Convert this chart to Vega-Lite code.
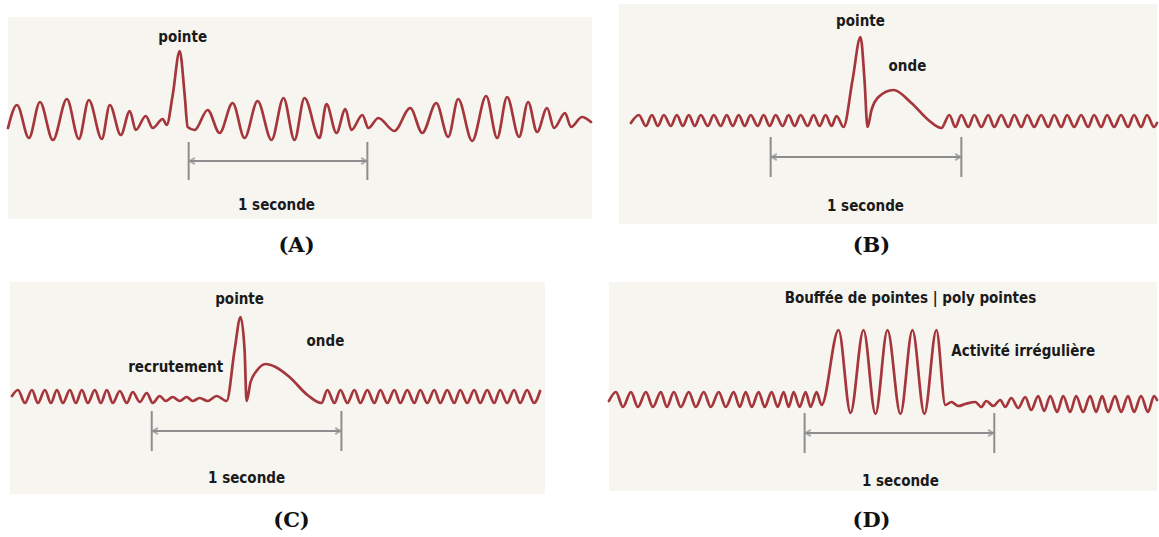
{
  "$schema": "https://vega.github.io/schema/vega-lite/v6.json",
  "width": 1159,
  "height": 537,
  "autosize": {"type": "fit", "contains": "padding"},
  "padding": 0,
  "background": "#ffffff",
  "config": {"view": {"stroke": null}},
  "datasets": {
    "panels": [
      {"p": "A", "x": 8, "x2": 593, "y": 17, "y2": 219},
      {"p": "B", "x": 620, "x2": 1159, "y": 4, "y2": 224},
      {"p": "C", "x": 10, "x2": 546, "y": 282, "y2": 494},
      {"p": "D", "x": 610, "x2": 1159, "y": 282, "y2": 491}
    ],
    "waves": [
      {"p":"A","x":8,"y":128},{"p":"A","x":17,"y":105},{"p":"A","x":29,"y":138},{"p":"A","x":40,"y":102},{"p":"A","x":53,"y":140},{"p":"A","x":67,"y":99},{"p":"A","x":79,"y":139},{"p":"A","x":89,"y":100},{"p":"A","x":102,"y":139},{"p":"A","x":110,"y":105},{"p":"A","x":121,"y":135},{"p":"A","x":130,"y":111},{"p":"A","x":136,"y":130},{"p":"A","x":146,"y":116},{"p":"A","x":153,"y":128},{"p":"A","x":163,"y":119},{"p":"A","x":167,"y":125},{"p":"A","x":173,"y":95},{"p":"A","x":180,"y":51},{"p":"A","x":185,"y":95},{"p":"A","x":188,"y":127},{"p":"A","x":195,"y":130},{"p":"A","x":208,"y":110},{"p":"A","x":220,"y":133},{"p":"A","x":233,"y":103},{"p":"A","x":245,"y":138},{"p":"A","x":258,"y":101},{"p":"A","x":272,"y":140},{"p":"A","x":284,"y":98},{"p":"A","x":295,"y":140},{"p":"A","x":305,"y":98},{"p":"A","x":320,"y":138},{"p":"A","x":327,"y":104},{"p":"A","x":337,"y":133},{"p":"A","x":346,"y":109},{"p":"A","x":352,"y":130},{"p":"A","x":363,"y":115},{"p":"A","x":369,"y":128},{"p":"A","x":379,"y":118},{"p":"A","x":395,"y":131},{"p":"A","x":411,"y":108},{"p":"A","x":423,"y":133},{"p":"A","x":437,"y":103},{"p":"A","x":449,"y":137},{"p":"A","x":459,"y":99},{"p":"A","x":473,"y":141},{"p":"A","x":487,"y":96},{"p":"A","x":498,"y":138},{"p":"A","x":508,"y":97},{"p":"A","x":520,"y":137},{"p":"A","x":529,"y":102},{"p":"A","x":538,"y":132},{"p":"A","x":548,"y":108},{"p":"A","x":555,"y":128},{"p":"A","x":566,"y":113},{"p":"A","x":572,"y":127},{"p":"A","x":583,"y":117},{"p":"A","x":592,"y":122},

      {"p":"B","x":632,"y":123},{"p":"B","x":640,"y":115},{"p":"B","x":647,"y":126},{"p":"B","x":653,"y":115},{"p":"B","x":659,"y":126},{"p":"B","x":665,"y":115},{"p":"B","x":672,"y":126},{"p":"B","x":678,"y":115},{"p":"B","x":684,"y":126},{"p":"B","x":690,"y":115},{"p":"B","x":696,"y":126},{"p":"B","x":702,"y":115},{"p":"B","x":709,"y":126},{"p":"B","x":715,"y":115},{"p":"B","x":722,"y":126},{"p":"B","x":728,"y":115},{"p":"B","x":734,"y":126},{"p":"B","x":740,"y":115},{"p":"B","x":746,"y":126},{"p":"B","x":752,"y":115},{"p":"B","x":759,"y":126},{"p":"B","x":765,"y":115},{"p":"B","x":771,"y":126},{"p":"B","x":777,"y":115},{"p":"B","x":784,"y":126},{"p":"B","x":790,"y":115},{"p":"B","x":796,"y":126},{"p":"B","x":802,"y":115},{"p":"B","x":809,"y":126},{"p":"B","x":815,"y":115},{"p":"B","x":821,"y":126},{"p":"B","x":827,"y":115},{"p":"B","x":833,"y":126},{"p":"B","x":838,"y":116},{"p":"B","x":845,"y":127},{"p":"B","x":854,"y":80},{"p":"B","x":862,"y":37},{"p":"B","x":866,"y":80},{"p":"B","x":869,"y":127},{"p":"B","x":873,"y":110},{"p":"B","x":880,"y":97},{"p":"B","x":895,"y":90},{"p":"B","x":913,"y":103},{"p":"B","x":930,"y":120},{"p":"B","x":943,"y":128},{"p":"B","x":951,"y":115},{"p":"B","x":957,"y":127},{"p":"B","x":963,"y":115},{"p":"B","x":970,"y":127},{"p":"B","x":976,"y":115},{"p":"B","x":983,"y":127},{"p":"B","x":990,"y":115},{"p":"B","x":996,"y":127},{"p":"B","x":1003,"y":115},{"p":"B","x":1010,"y":127},{"p":"B","x":1016,"y":115},{"p":"B","x":1023,"y":127},{"p":"B","x":1029,"y":115},{"p":"B","x":1036,"y":127},{"p":"B","x":1043,"y":115},{"p":"B","x":1050,"y":127},{"p":"B","x":1056,"y":115},{"p":"B","x":1063,"y":127},{"p":"B","x":1069,"y":115},{"p":"B","x":1076,"y":127},{"p":"B","x":1083,"y":115},{"p":"B","x":1090,"y":127},{"p":"B","x":1096,"y":115},{"p":"B","x":1103,"y":127},{"p":"B","x":1109,"y":115},{"p":"B","x":1116,"y":127},{"p":"B","x":1123,"y":115},{"p":"B","x":1130,"y":127},{"p":"B","x":1136,"y":115},{"p":"B","x":1143,"y":127},{"p":"B","x":1149,"y":115},{"p":"B","x":1156,"y":127},{"p":"B","x":1159,"y":123},

      {"p":"C","x":12,"y":396},{"p":"C","x":18,"y":390},{"p":"C","x":25,"y":403},{"p":"C","x":32,"y":390},{"p":"C","x":38,"y":403},{"p":"C","x":45,"y":390},{"p":"C","x":51,"y":403},{"p":"C","x":57,"y":390},{"p":"C","x":63,"y":403},{"p":"C","x":70,"y":390},{"p":"C","x":76,"y":403},{"p":"C","x":82,"y":390},{"p":"C","x":88,"y":403},{"p":"C","x":95,"y":390},{"p":"C","x":101,"y":403},{"p":"C","x":107,"y":390},{"p":"C","x":113,"y":403},{"p":"C","x":120,"y":391},{"p":"C","x":127,"y":403},{"p":"C","x":133,"y":392},{"p":"C","x":140,"y":402},{"p":"C","x":147,"y":393},{"p":"C","x":153,"y":403},{"p":"C","x":160,"y":396},{"p":"C","x":166,"y":401},{"p":"C","x":173,"y":397},{"p":"C","x":180,"y":401},{"p":"C","x":187,"y":397},{"p":"C","x":193,"y":401},{"p":"C","x":200,"y":398},{"p":"C","x":208,"y":401},{"p":"C","x":217,"y":396},{"p":"C","x":227,"y":401},{"p":"C","x":235,"y":350},{"p":"C","x":241,"y":317},{"p":"C","x":245,"y":350},{"p":"C","x":247,"y":401},{"p":"C","x":251,"y":382},{"p":"C","x":257,"y":371},{"p":"C","x":266,"y":364},{"p":"C","x":276,"y":367},{"p":"C","x":290,"y":377},{"p":"C","x":308,"y":395},{"p":"C","x":322,"y":403},{"p":"C","x":328,"y":390},{"p":"C","x":335,"y":403},{"p":"C","x":341,"y":390},{"p":"C","x":348,"y":403},{"p":"C","x":355,"y":390},{"p":"C","x":361,"y":403},{"p":"C","x":368,"y":390},{"p":"C","x":375,"y":403},{"p":"C","x":381,"y":390},{"p":"C","x":388,"y":403},{"p":"C","x":395,"y":390},{"p":"C","x":401,"y":403},{"p":"C","x":408,"y":390},{"p":"C","x":415,"y":403},{"p":"C","x":421,"y":390},{"p":"C","x":428,"y":403},{"p":"C","x":435,"y":390},{"p":"C","x":441,"y":403},{"p":"C","x":448,"y":390},{"p":"C","x":455,"y":403},{"p":"C","x":461,"y":390},{"p":"C","x":468,"y":403},{"p":"C","x":475,"y":390},{"p":"C","x":481,"y":403},{"p":"C","x":488,"y":390},{"p":"C","x":495,"y":403},{"p":"C","x":501,"y":390},{"p":"C","x":508,"y":403},{"p":"C","x":515,"y":390},{"p":"C","x":521,"y":403},{"p":"C","x":528,"y":390},{"p":"C","x":535,"y":403},{"p":"C","x":541,"y":391},

      {"p":"D","x":610,"y":401},{"p":"D","x":617,"y":392},{"p":"D","x":624,"y":407},{"p":"D","x":632,"y":392},{"p":"D","x":639,"y":407},{"p":"D","x":647,"y":392},{"p":"D","x":654,"y":407},{"p":"D","x":662,"y":392},{"p":"D","x":668,"y":407},{"p":"D","x":675,"y":392},{"p":"D","x":682,"y":407},{"p":"D","x":690,"y":392},{"p":"D","x":697,"y":407},{"p":"D","x":705,"y":392},{"p":"D","x":712,"y":407},{"p":"D","x":720,"y":392},{"p":"D","x":727,"y":407},{"p":"D","x":735,"y":392},{"p":"D","x":741,"y":407},{"p":"D","x":747,"y":392},{"p":"D","x":753,"y":407},{"p":"D","x":760,"y":392},{"p":"D","x":766,"y":407},{"p":"D","x":773,"y":392},{"p":"D","x":779,"y":407},{"p":"D","x":785,"y":392},{"p":"D","x":790,"y":407},{"p":"D","x":795,"y":392},{"p":"D","x":801,"y":407},{"p":"D","x":807,"y":392},{"p":"D","x":812,"y":407},{"p":"D","x":818,"y":392},{"p":"D","x":823,"y":405},{"p":"D","x":840,"y":330},{"p":"D","x":852,"y":413},{"p":"D","x":865,"y":330},{"p":"D","x":877,"y":414},{"p":"D","x":889,"y":330},{"p":"D","x":902,"y":414},{"p":"D","x":914,"y":330},{"p":"D","x":926,"y":414},{"p":"D","x":938,"y":330},{"p":"D","x":947,"y":405},{"p":"D","x":953,"y":402},{"p":"D","x":960,"y":406},{"p":"D","x":967,"y":404},{"p":"D","x":977,"y":402},{"p":"D","x":983,"y":407},{"p":"D","x":988,"y":401},{"p":"D","x":995,"y":406},{"p":"D","x":1002,"y":400},{"p":"D","x":1007,"y":407},{"p":"D","x":1013,"y":398},{"p":"D","x":1020,"y":408},{"p":"D","x":1027,"y":397},{"p":"D","x":1033,"y":410},{"p":"D","x":1040,"y":396},{"p":"D","x":1046,"y":411},{"p":"D","x":1052,"y":396},{"p":"D","x":1059,"y":412},{"p":"D","x":1065,"y":396},{"p":"D","x":1072,"y":412},{"p":"D","x":1078,"y":396},{"p":"D","x":1085,"y":412},{"p":"D","x":1092,"y":396},{"p":"D","x":1098,"y":412},{"p":"D","x":1104,"y":396},{"p":"D","x":1110,"y":412},{"p":"D","x":1117,"y":396},{"p":"D","x":1123,"y":412},{"p":"D","x":1130,"y":396},{"p":"D","x":1136,"y":412},{"p":"D","x":1143,"y":396},{"p":"D","x":1150,"y":412},{"p":"D","x":1156,"y":396},{"p":"D","x":1159,"y":400}
    ],
    "brackets": [
      {"p":"A","x":189,"x2":189,"y":142,"y2":180},{"p":"A","x":368,"x2":368,"y":142,"y2":180},{"p":"A","x":190,"x2":367,"y":161,"y2":161},
      {"p":"B","x":772,"x2":772,"y":137,"y2":177},{"p":"B","x":963,"x2":963,"y":137,"y2":177},{"p":"B","x":773,"x2":962,"y":157,"y2":157},
      {"p":"C","x":152,"x2":152,"y":411,"y2":451},{"p":"C","x":342,"x2":342,"y":411,"y2":451},{"p":"C","x":153,"x2":341,"y":431,"y2":431},
      {"p":"D","x":806,"x2":806,"y":413,"y2":453},{"p":"D","x":996,"x2":996,"y":413,"y2":453},{"p":"D","x":807,"x2":995,"y":433,"y2":433}
    ],
    "arrows": [
      {"p":"A","side":"L","x":192,"y":161},{"p":"A","side":"R","x":365,"y":161},
      {"p":"B","side":"L","x":775,"y":157},{"p":"B","side":"R","x":960,"y":157},
      {"p":"C","side":"L","x":155,"y":431},{"p":"C","side":"R","x":339,"y":431},
      {"p":"D","side":"L","x":809,"y":433},{"p":"D","side":"R","x":993,"y":433}
    ],
    "labels": [
      {"t":"pointe","x":183,"y":37},
      {"t":"1 seconde","x":277,"y":205},
      {"t":"pointe","x":862,"y":21},
      {"t":"onde","x":909,"y":66},
      {"t":"1 seconde","x":867,"y":206},
      {"t":"pointe","x":240,"y":299},
      {"t":"recrutement","x":176,"y":367},
      {"t":"onde","x":326,"y":341},
      {"t":"1 seconde","x":247,"y":478},
      {"t":"Bouffée de pointes | poly pointes","x":912,"y":298},
      {"t":"1 seconde","x":902,"y":481}
    ],
    "leftlabels": [
      {"t":"Activité irrégulière","x":953,"y":351}
    ],
    "tags": [
      {"t":"(A)","x":297,"y":246},
      {"t":"(B)","x":873,"y":246},
      {"t":"(C)","x":292,"y":521},
      {"t":"(D)","x":873,"y":521}
    ]
  },
  "encoding": {
    "x": {"field": "x", "type": "quantitative", "scale": {"domain": [0, 1159], "nice": false, "zero": false}, "axis": null},
    "y": {"field": "y", "type": "quantitative", "scale": {"domain": [0, 537], "nice": false, "zero": false, "reverse": true}, "axis": null}
  },
  "layer": [
    {
      "data": {"name": "panels"},
      "mark": {"type": "rect", "color": "#f7f5f0"},
      "encoding": {"x2": {"field": "x2"}, "y2": {"field": "y2"}}
    },
    {
      "data": {"name": "brackets"},
      "mark": {"type": "rule", "color": "#8d8d8d", "strokeWidth": 2},
      "encoding": {"x2": {"field": "x2"}, "y2": {"field": "y2"}}
    },
    {
      "data": {"name": "arrows"},
      "transform": [{"filter": "datum.side == 'L'"}],
      "mark": {"type": "point", "shape": "M1,-1L-0.6,0L1,1", "filled": false, "color": "#8d8d8d", "strokeWidth": 2, "size": 40}
    },
    {
      "data": {"name": "arrows"},
      "transform": [{"filter": "datum.side == 'R'"}],
      "mark": {"type": "point", "shape": "M-1,-1L0.6,0L-1,1", "filled": false, "color": "#8d8d8d", "strokeWidth": 2, "size": 40}
    },
    {
      "data": {"name": "waves"},
      "mark": {"type": "line", "interpolate": "monotone", "color": "#a5363b", "strokeWidth": 2.7, "strokeJoin": "round", "strokeCap": "round"},
      "encoding": {"detail": {"field": "p"}}
    },
    {
      "data": {"name": "labels"},
      "mark": {"type": "text", "font": "DejaVu Sans Condensed, DejaVu Sans, sans-serif", "fontWeight": "bold", "fontSize": 15, "color": "#1a1a1a", "align": "center", "baseline": "middle"},
      "encoding": {"text": {"field": "t"}}
    },
    {
      "data": {"name": "leftlabels"},
      "mark": {"type": "text", "font": "DejaVu Sans Condensed, DejaVu Sans, sans-serif", "fontWeight": "bold", "fontSize": 15, "color": "#1a1a1a", "align": "left", "baseline": "middle"},
      "encoding": {"text": {"field": "t"}}
    },
    {
      "data": {"name": "tags"},
      "mark": {"type": "text", "font": "DejaVu Serif", "fontWeight": "bold", "fontSize": 21, "color": "#111111", "align": "center", "baseline": "middle"},
      "encoding": {"text": {"field": "t"}}
    }
  ]
}
